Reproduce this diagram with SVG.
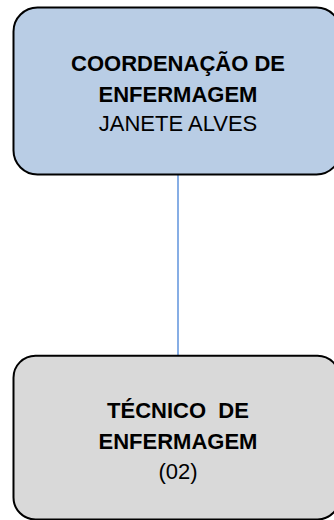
<svg xmlns="http://www.w3.org/2000/svg" width="334" height="520" viewBox="0 0 334 520">
<style>
.box{stroke:#000;stroke-width:2}
.t{font-family:"Liberation Sans",Arial,sans-serif;font-size:22px;fill:#000;text-anchor:middle;white-space:pre}
.b{font-weight:bold}
.conn{stroke:#5F93DC;stroke-width:1.5;fill:none}
</style>
<g id="connectors">
<line class="conn" x1="178" y1="175" x2="178" y2="355"/>
</g>
<g id="node-coordenacao">
<rect class="box" x="13.5" y="7.5" width="327" height="167" rx="24" ry="24" fill="#B9CDE5"/>
<text class="t b" x="178" y="71">COORDENAÇÃO DE</text>
<text class="t b" x="178" y="101.5">ENFERMAGEM</text>
<text class="t" x="178" y="131" font-size="21">JANETE ALVES</text>
</g>
<g id="node-tecnico">
<rect class="box" x="13.5" y="355.7" width="326" height="163.8" rx="22" ry="22" fill="#D9D9D9"/>
<text class="t b" x="178" y="417.5" xml:space="preserve">TÉCNICO  DE</text>
<text class="t b" x="178" y="449">ENFERMAGEM</text>
<text class="t" x="178" y="479" font-size="21">(02)</text>
</g>
</svg>
